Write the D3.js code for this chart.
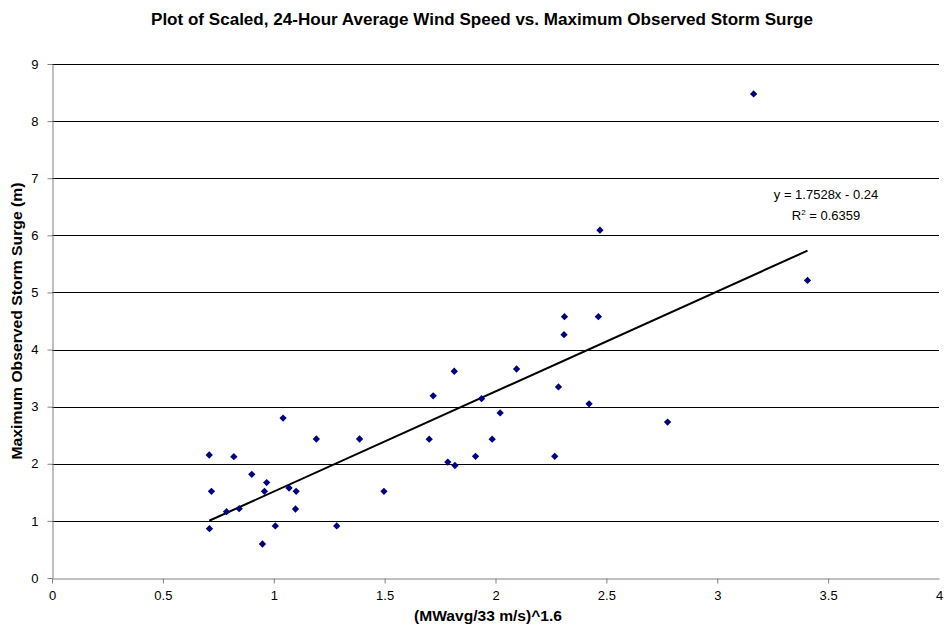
<!DOCTYPE html>
<html>
<head>
<meta charset="utf-8">
<script src="https://cdn.jsdelivr.net/npm/d3@7"></script>
<style>
  html, body { margin: 0; padding: 0; background: #fff; }
  svg { display: block; font-family: "Liberation Sans", Arial, sans-serif; }
</style>
</head>
<body>
<svg id="chart" width="947" height="644"></svg>
<script>
// Scaled 24-hour average wind speed vs. maximum observed storm surge
const windScaled = [
  0.709, 0.820, 0.901, 0.968, 0.958, 0.719, 1.069, 1.101, 1.497, 0.787,
  0.844, 1.098, 0.710, 1.007, 1.284, 0.949, 1.042, 1.192, 1.387,
  2.311, 2.464, 2.309, 1.814, 2.095, 1.719, 1.937, 2.284, 2.422, 2.021,
  2.776, 1.701, 1.985, 1.785, 1.817, 1.910, 2.267,
  2.471, 3.164, 3.407
];
const surge = [
  2.154, 2.125, 1.816, 1.670, 1.518, 1.518, 1.576, 1.518, 1.518, 1.161,
  1.214, 1.208, 0.864, 0.911, 0.911, 0.595, 2.800, 2.434, 2.434,
  4.576, 4.576, 4.260, 3.620, 3.660, 3.190, 3.140, 3.345, 3.050, 2.890,
  2.730, 2.430, 2.430, 2.030, 1.970, 2.130, 2.130,
  6.090, 8.476, 5.210
];
// Linear trendline
const slope = 1.7528;
const intercept = -0.24;
const rSquared = 0.6359;

const xTicks = [0, 0.5, 1, 1.5, 2, 2.5, 3, 3.5, 4];
const yTicks = [0, 1, 2, 3, 4, 5, 6, 7, 8, 9];

const title = "Plot of Scaled, 24-Hour Average Wind Speed vs. Maximum Observed Storm Surge";
const xTitle = "(MWavg/33 m/s)^1.6";
const yTitle = "Maximum Observed Storm Surge (m)";

const svg = d3.select("#chart");
const margin = { left: 52, right: 8, top: 64, bottom: 66 };
const W = 947, H = 644;

const x = d3.scaleLinear().domain([0, 4]).range([margin.left, W - margin.right]);
const y = d3.scaleLinear().domain([0, 9]).range([H - margin.bottom, margin.top]);

// Horizontal gridlines
svg.append("g")
  .selectAll("line")
  .data(yTicks.filter(d => d > 0))
  .join("line")
  .attr("x1", x(0)).attr("x2", x(4))
  .attr("y1", d => Math.round(y(d)) + 0.5).attr("y2", d => Math.round(y(d)) + 0.5)
  .attr("stroke", "#000").attr("stroke-width", 1);

// Axes
const xAxis = svg.append("g")
  .attr("transform", `translate(0,${Math.round(y(0)) + 0.5})`)
  .call(d3.axisBottom(x).tickValues(xTicks).tickSize(5).tickSizeOuter(0).tickPadding(7)
    .tickFormat(d => d3.format("")(d)));
const yAxis = svg.append("g")
  .attr("transform", `translate(${Math.round(x(0)) + 0.5},0)`)
  .call(d3.axisLeft(y).tickValues(yTicks).tickSize(5).tickSizeOuter(0).tickPadding(9));

[xAxis, yAxis].forEach(g => {
  g.select(".domain").attr("stroke", "#808080").attr("stroke-width", 1);
  g.selectAll(".tick line").attr("stroke", "#808080");
  g.selectAll(".tick text")
    .attr("font-family", "Liberation Sans, Arial, sans-serif")
    .attr("font-size", 13).attr("fill", "#000");
});
xAxis.selectAll(".tick").filter(d => d === 4).select("line").remove();

// Trendline across the range of the data
const xMin = d3.min(windScaled), xMax = d3.max(windScaled);
svg.append("line")
  .attr("x1", x(xMin)).attr("y1", y(slope * xMin + intercept))
  .attr("x2", x(xMax)).attr("y2", y(slope * xMax + intercept))
  .attr("stroke", "#000").attr("stroke-width", 2);

// Data markers (diamonds)
const diamond = d3.symbol().type(d3.symbolDiamond2).size(34);
svg.append("g")
  .selectAll("path")
  .data(windScaled.map((v, i) => [v, surge[i]]))
  .join("path")
  .attr("d", diamond)
  .attr("transform", d => `translate(${x(d[0])},${y(d[1])})`)
  .attr("fill", "#000080");

// Trendline equation
const eq = svg.append("g")
  .attr("font-family", "Liberation Sans, Arial, sans-serif")
  .attr("font-size", 13).attr("text-anchor", "middle").attr("fill", "#000");
eq.append("text").attr("x", 826).attr("y", 199)
  .text(`y = ${slope}x - ${Math.abs(intercept)}`);
const r2 = eq.append("text").attr("x", 826).attr("y", 220);
r2.append("tspan").text("R");
r2.append("tspan").attr("font-size", 8).attr("dy", -5).text("2");
r2.append("tspan").attr("dy", 5).text(` = ${rSquared}`);

// Titles
svg.append("text")
  .attr("x", 482).attr("y", 25)
  .attr("text-anchor", "middle").attr("font-weight", "bold").attr("font-size", 16)
  .attr("textLength", 662).attr("lengthAdjust", "spacingAndGlyphs")
  .text(title);
svg.append("text")
  .attr("x", 488).attr("y", 621)
  .attr("text-anchor", "middle").attr("font-weight", "bold").attr("font-size", 14)
  .attr("textLength", 148).attr("lengthAdjust", "spacingAndGlyphs")
  .text(xTitle);
svg.append("text")
  .attr("transform", `translate(22,${(y(0) + y(9)) / 2}) rotate(-90)`)
  .attr("text-anchor", "middle").attr("font-weight", "bold").attr("font-size", 14)
  .attr("textLength", 277).attr("lengthAdjust", "spacingAndGlyphs")
  .text(yTitle);
</script>
</body>
</html>
